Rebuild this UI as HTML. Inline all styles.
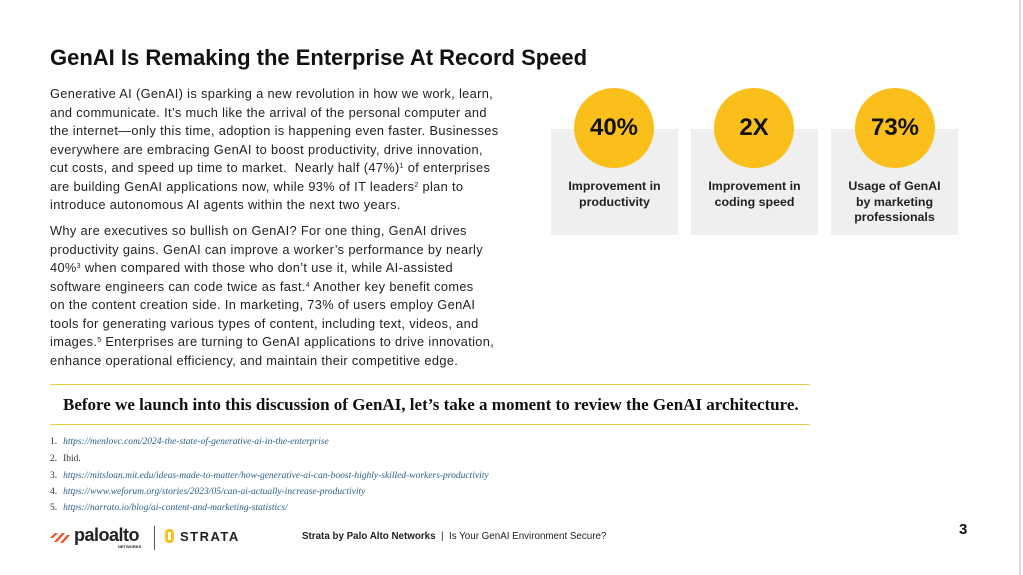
<!DOCTYPE html>
<html><head><meta charset="utf-8"><style>
body{margin:0;width:1023px;height:575px;background:#fff;position:relative;overflow:hidden;font-family:"Liberation Sans",sans-serif;color:#1a1a1a}
.a{position:absolute}
h1{position:absolute;left:50px;top:45px;margin:0;font-size:22px;font-weight:bold;color:#111;white-space:nowrap}
.p{position:absolute;left:50px;font-size:12.8px;line-height:18.5px;color:#222;white-space:nowrap;letter-spacing:0.35px}
sup{font-size:7px;line-height:0;vertical-align:4px}
.box{position:absolute;top:129px;width:127px;height:106px;background:#efeff0}
.c{position:absolute;top:88px;width:80px;height:80px;border-radius:50%;background:#fbbf1b;text-align:center;line-height:80px;font-size:24px;font-weight:bold;color:#111}
.lb{position:absolute;top:179px;width:127px;text-align:center;font-size:12.4px;line-height:15.5px;font-weight:bold;color:#222}
.hr{position:absolute;left:50px;width:760px;height:1px;background:#e8c94a}
.fn{position:absolute;left:50px;font-family:"Liberation Serif",serif;font-size:9.5px;font-style:italic;color:#2b5f8a;white-space:nowrap}
.fn span{font-style:normal;color:#333;margin-right:6px}
</style></head><body>
<div class="a" style="left:1019px;top:0;width:2px;height:575px;background:#ddd"></div>
<h1>GenAI Is Remaking the Enterprise At Record Speed</h1>
<div class="p" style="top:85px">Generative AI (GenAI) is sparking a new revolution in how we work, learn,<br>and communicate. It’s much like the arrival of the personal computer and<br>the internet—only this time, adoption is happening even faster. Businesses<br>everywhere are embracing GenAI to boost productivity, drive innovation,<br>cut costs, and speed up time to market.&nbsp; Nearly half (47%)<sup>1</sup> of enterprises<br>are building GenAI applications now, while 93% of IT leaders<sup>2</sup> plan to<br>introduce autonomous AI agents within the next two years.</div>
<div class="p" style="top:222px">Why are executives so bullish on GenAI? For one thing, GenAI drives<br>productivity gains. GenAI can improve a worker’s performance by nearly<br>40%<sup>3</sup> when compared with those who don’t use it, while AI-assisted<br>software engineers can code twice as fast.<sup>4</sup> Another key benefit comes<br>on the content creation side. In marketing, 73% of users employ GenAI<br>tools for generating various types of content, including text, videos, and<br>images.<sup>5</sup> Enterprises are turning to GenAI applications to drive innovation,<br>enhance operational efficiency, and maintain their competitive edge.</div>
<div class="box" style="left:551px"></div><div class="box" style="left:691px"></div><div class="box" style="left:831px"></div>
<div class="c" style="left:574px">40%</div><div class="c" style="left:714px">2X</div><div class="c" style="left:855px">73%</div>
<div class="lb" style="left:551px">Improvement in<br>productivity</div>
<div class="lb" style="left:691px">Improvement in<br>coding speed</div>
<div class="lb" style="left:831px">Usage of GenAI<br>by marketing<br>professionals</div>
<div class="hr" style="top:384px"></div>
<div class="a" style="left:63px;top:395px;font-family:'Liberation Serif',serif;font-weight:bold;font-size:17px;color:#111;white-space:nowrap">Before we launch into this discussion of GenAI, let’s take a moment to review the GenAI architecture.</div>
<div class="hr" style="top:424px"></div>
<div class="fn" style="top:437px"><span>1.</span>https://menlovc.com/2024-the-state-of-generative-ai-in-the-enterprise</div>
<div class="fn" style="top:454px"><span>2.</span><i style="font-style:normal;color:#333">Ibid.</i></div>
<div class="fn" style="top:471px"><span>3.</span>https://mitsloan.mit.edu/ideas-made-to-matter/how-generative-ai-can-boost-highly-skilled-workers-productivity</div>
<div class="fn" style="top:487px"><span>4.</span>https://www.weforum.org/stories/2023/05/can-ai-actually-increase-productivity</div>
<div class="fn" style="top:503px"><span>5.</span>https://narrato.io/blog/ai-content-and-marketing-statistics/</div>
<div class="a" style="left:50px;top:529px;width:22px;height:16px">
<svg width="22" height="16"><g fill="#f04e23"><polygon points="0,9 5,4 8,4 3,9"/><polygon points="4,13 12,4 15,4 7,13"/><polygon points="10,14 17,6 20,6 13,14"/></g></svg></div>
<div class="a" style="left:74px;top:525px;font-size:18px;font-weight:bold;color:#222;letter-spacing:-0.5px">paloalto</div>
<div class="a" style="left:118px;top:544px;font-size:4px;font-weight:bold;color:#222">NETWORKS</div>
<div class="a" style="left:154px;top:526px;width:1px;height:24px;background:#555"></div>
<div class="a" style="left:165px;top:529px;width:9px;height:14px;border:3px solid #fbbf1b;border-radius:4px;box-sizing:border-box"></div>
<div class="a" style="left:180px;top:529px;font-size:13px;font-weight:bold;letter-spacing:1.5px;color:#222">STRATA</div>
<div class="a" style="left:302px;top:531px;font-size:9.8px;color:#222;white-space:nowrap"><b>Strata by Palo Alto Networks</b> &nbsp;|&nbsp; Is Your GenAI Environment Secure?</div>
<div class="a" style="left:959px;top:521px;font-size:15px;font-weight:bold;color:#111">3</div>
</body></html>
